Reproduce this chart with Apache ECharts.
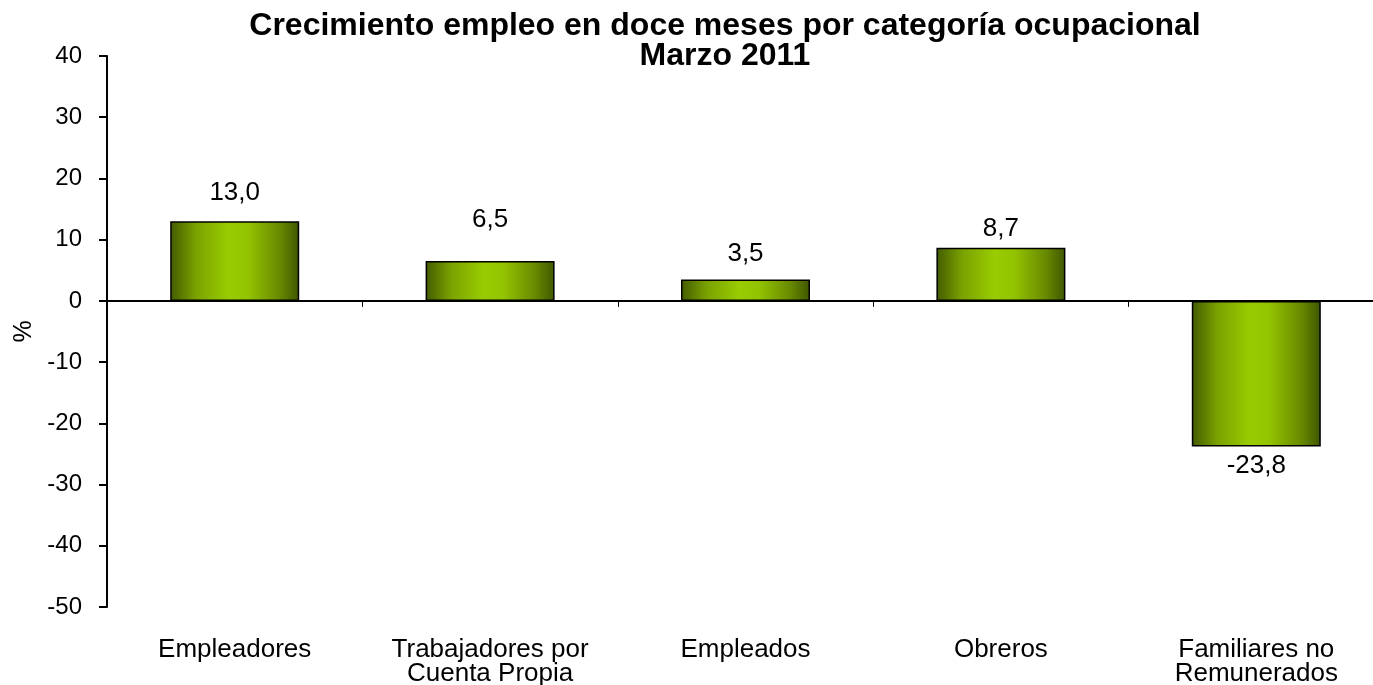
<!DOCTYPE html>
<html>
<head>
<meta charset="utf-8">
<script src="https://cdn.jsdelivr.net/npm/echarts@6/dist/echarts.min.js"></script>
<style>
html,body{margin:0;padding:0;background:#fff;}
#chart{width:1373px;height:685px;}
</style>
</head>
<body>
<div id="chart"></div>
<script>
var categories = ['Empleadores', 'Trabajadores por\nCuenta Propia', 'Empleados', 'Obreros', 'Familiares no\nRemunerados'];
var values = [13.0, 6.5, 3.5, 8.7, -23.8];
// label gaps above/below each bar (hand placed in the original)
var labelGap = [15, 28, 13, 6, 6];

var font = '"Liberation Sans", Arial, sans-serif';
var barFill = new echarts.graphic.LinearGradient(0, 0, 1, 0, [
    {offset: 0, color: '#435b00'},
    {offset: 0.2, color: '#7aa200'},
    {offset: 0.45, color: '#99cc00'},
    {offset: 0.6, color: '#93c400'},
    {offset: 0.85, color: '#688900'},
    {offset: 1, color: '#3f5600'}
]);

var option = {
    backgroundColor: '#ffffff',
    title: {
        left: 725,
        textAlign: 'center',
        top: 11,
        padding: 0,
        text: 'Crecimiento empleo en doce meses por categoría ocupacional\nMarzo 2011',
        textStyle: {
            color: '#000',
            fontSize: 32,
            fontWeight: 'bold',
            fontFamily: font,
            lineHeight: 30
        }
    },
    grid: {
        left: 107,
        top: 56,
        bottom: 78,
        right: -11,
        outerBoundsMode: 'none',
        containLabel: false
    },
    xAxis: [{
        type: 'category',
        data: categories,
        position: 'bottom',
        axisLine: {onZero: true, lineStyle: {color: '#000', width: 2}},
        axisTick: {show: true, inside: false, length: 6, lineStyle: {color: '#000', width: 1}},
        axisLabel: {show: false},
        splitLine: {show: false}
    }, {
        type: 'category',
        data: categories,
        position: 'bottom',
        axisLine: {show: false, onZero: false},
        axisTick: {show: false},
        axisLabel: {
            margin: 31,
            color: '#000',
            fontSize: 26,
            fontFamily: font,
            lineHeight: 24,
            interval: 0
        }
    }],
    yAxis: {
        type: 'value',
        min: -50,
        max: 40,
        interval: 10,
        name: '%',
        nameLocation: 'middle',
        nameGap: 61,
        nameRotate: 90,
        nameTextStyle: {color: '#000', fontSize: 25, fontFamily: font},
        axisLine: {show: true, lineStyle: {color: '#000', width: 2}},
        axisTick: {show: true, length: 8, lineStyle: {color: '#000', width: 2}},
        axisLabel: {margin: 25, color: '#000', fontSize: 24, fontFamily: font},
        splitLine: {show: false}
    },
    series: [{
        type: 'bar',
        xAxisIndex: 0,
        barWidth: 129,
        data: values.map(function (v, i) {
            return {
                value: v,
                label: {position: v < 0 ? 'bottom' : 'top', distance: labelGap[i]}
            };
        }),
        itemStyle: {
            color: barFill,
            borderColor: '#000',
            borderWidth: 1.5
        },
        label: {
            show: true,
            position: 'top',
            color: '#000',
            fontSize: 26,
            fontFamily: font,
            formatter: function (p) {
                return p.value.toFixed(1).replace('.', ',');
            }
        }
    }]
};

var myChart = echarts.init(document.getElementById('chart'));
myChart.setOption(option);
</script>
</body>
</html>
